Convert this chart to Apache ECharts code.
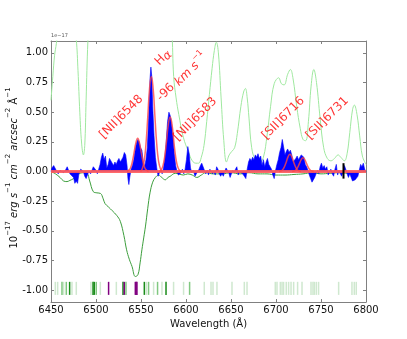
<!DOCTYPE html>
<html><head><meta charset="utf-8">
<script src="https://cdn.jsdelivr.net/npm/echarts@6/dist/echarts.min.js"></script>
<style>html,body{margin:0;padding:0;background:#fff}#c{width:407px;height:339px}</style>
</head><body><div id="c"></div>
<script>
// ---------- data ----------
const xTickValues = [6450, 6500, 6550, 6600, 6650, 6700, 6750, 6800];
const yTickValues = [-1.0, -0.75, -0.5, -0.25, 0.0, 0.25, 0.5, 0.75, 1.0];

// residual spectrum (blue fill)
const residual = [
[6450,0.00],[6451,0.03],[6453,0.05],[6455,0.04],[6456.5,0.00],[6458,-0.02],[6460,0.01],[6462,0.02],[6464,-0.01],[6466,0.01],
[6468,0.04],[6469.5,0.01],[6471,-0.02],[6473,-0.01],[6475,-0.05],[6476.5,-0.10],[6478,-0.08],[6479.5,-0.10],[6481,-0.02],[6483,0.02],
[6484.5,0.03],[6486,0.00],[6487.5,-0.04],[6489,-0.06],[6490.5,-0.03],[6492,0.00],[6494,-0.02],[6495.5,0.01],[6497,0.04],[6498.5,0.05],
[6500,0.01],[6501.5,-0.02],[6503,0.02],[6504.5,0.06],[6506,0.12],[6507.5,0.155],[6509,0.10],[6510.5,0.13],[6512,0.03],[6513.5,0.06],
[6515,0.11],[6516.5,0.12],[6518,0.07],[6519.5,0.05],[6521,0.08],[6522.5,0.06],[6524,0.09],[6525.5,0.11],[6527,0.08],[6528.5,0.10],
[6530,0.12],[6531.5,0.16],[6533,0.14],[6534.5,0.05],[6535.5,-0.06],[6536.5,-0.11],[6537.5,-0.05],[6539,0.02],[6540.5,0.05],[6542,0.10],
[6543.5,0.18],[6545,0.24],[6546.5,0.27],[6548,0.25],[6549.5,0.20],[6551,0.18],[6552.5,0.08],[6554,0.04],[6555.5,0.10],[6557,0.20],
[6558.5,0.45],[6560,0.78],[6561,0.88],[6562,0.80],[6563,0.55],[6564.5,0.30],[6566,0.12],[6567.5,0.03],[6569,-0.04],[6570.5,-0.01],
[6572,0.01],[6573.5,-0.02],[6575,0.03],[6576.5,0.12],[6578,0.25],[6579.5,0.42],[6581,0.50],[6582.5,0.47],[6584,0.40],[6585.5,0.30],
[6587,0.15],[6588.5,0.05],[6590,0.00],[6591.5,-0.03],[6593,-0.04],[6594.5,-0.01],[6596,0.02],[6597.5,-0.02],[6599,0.02],[6600.5,0.10],
[6602,0.21],[6603.5,0.15],[6605,0.03],[6606.5,-0.01],[6608,0.01],[6610,-0.04],[6611.5,-0.03],[6613,0.00],[6614.5,0.02],[6616,0.05],
[6617.5,0.07],[6619,0.04],[6620.5,0.03],[6622,-0.02],[6623.5,0.01],[6625,-0.03],[6626.5,0.02],[6628,0.03],[6629.5,-0.02],[6631,0.00],
[6632.5,-0.03],[6634,0.04],[6635.5,0.02],[6637,-0.02],[6638.5,-0.04],[6640,-0.02],[6641.5,-0.04],[6643,0.00],[6644.5,0.03],[6646,0.02],
[6647.5,-0.01],[6649,-0.05],[6650.5,-0.02],[6652,0.01],[6653.5,-0.01],[6655,0.02],[6656.5,0.04],[6658,-0.03],[6659.5,0.00],[6661,0.01],
[6663,-0.02],[6665,-0.03],[6666.5,-0.06],[6668,0.02],[6669.5,0.08],[6671,0.11],[6672.5,0.09],[6674,0.12],[6675.5,0.10],[6677,0.14],
[6678.5,0.12],[6680,0.15],[6681.5,0.11],[6683,0.13],[6684.5,0.05],[6686,0.10],[6687.5,0.04],[6689,0.08],[6690.5,0.11],[6692,0.06],
[6693.5,0.05],[6695,0.02],[6696.5,-0.03],[6698,-0.06],[6699.5,0.01],[6701,0.06],[6702.5,0.10],[6704,0.16],[6705.5,0.20],[6707,0.27],
[6708.5,0.26],[6710,0.14],[6711.5,0.17],[6713,0.19],[6714.5,0.16],[6716,0.18],[6717.5,0.14],[6719,0.08],[6720.5,0.07],[6722,0.11],
[6723.5,0.13],[6725,0.10],[6726.5,0.12],[6728,0.14],[6729.5,0.15],[6731,0.12],[6732.5,0.06],[6734,0.04],[6735.5,0.01],[6737,-0.03],
[6738.5,-0.06],[6740,-0.09],[6741.5,-0.08],[6743,-0.05],[6744.5,-0.02],[6746,0.01],[6747.5,-0.02],[6749,0.04],[6750.5,0.07],[6752,0.03],
[6753.5,0.05],[6755,0.02],[6756.5,0.04],[6758,-0.03],[6759.5,0.00],[6761,0.02],[6762.5,-0.02],[6764,-0.04],[6765.5,0.02],[6767,0.06],
[6768.5,-0.03],[6770,0.01],[6771.5,-0.02],[6773,-0.04],[6774.5,0.00],[6776,0.05],[6777.5,0.02],[6779,-0.02],[6780.5,-0.05],[6782,-0.02],
[6783.5,-0.05],[6785,-0.08],[6786.5,-0.09],[6788,-0.07],[6789.5,-0.08],[6791,-0.04],[6792.5,0.01],[6794,0.06],[6795.5,0.04],[6797,0.07],
[6798.5,0.02],[6800,0.00]
];

// light green spectrum (goes off the top of the axes)
const lightSpectrum = [
[6450,0.60],[6452,0.80],[6454,0.98],[6456,1.08],[6458,1.2],[6462,1.5],[6468,1.6],[6474,1.35],[6478,1.12],[6480,0.85],
[6482,0.5],[6484,0.24],[6486,0.14],[6487.5,0.22],[6489,0.6],[6491,1.1],[6494,1.5],[6540,1.8],[6578,1.6],[6584,1.2],
[6586.3,0.80],[6589,0.62],[6592,0.48],[6597,0.29],[6603,0.16],[6607,0.09],[6611,0.07],[6614,0.07],[6617,0.12],[6620,0.22],
[6623,0.42],[6626,0.65],[6629,0.87],[6631.5,1.02],[6633.7,1.09],[6636,1.0],[6639,0.62],[6642,0.26],[6645,0.08],[6648,0.14],
[6651,0.17],[6654,0.2],[6657,0.32],[6661,0.55],[6664,0.67],[6666,0.70],[6668,0.62],[6670,0.45],[6673,0.2],[6677,0.1],
[6682,0.08],[6686,0.12],[6690,0.3],[6694,0.55],[6698,0.74],[6703,0.79],[6706,0.74],[6709,0.73],[6713,0.82],[6716,0.86],
[6719,0.78],[6723,0.55],[6727,0.36],[6730,0.27],[6733,0.26],[6736,0.42],[6739,0.72],[6742,0.86],[6745,0.75],[6749,0.45],
[6753,0.2],[6757,0.11],[6761,0.09],[6765,0.11],[6769,0.14],[6772,0.12],[6776,0.09],[6779,0.15],[6782,0.33],[6785,0.52],
[6787,0.56],[6790,0.48],[6793,0.3],[6796,0.13],[6800,0.06]
];

// dark green absorption model
const absorptionModel = [
[6450,0.0],[6455,-0.02],[6460,-0.05],[6464,-0.08],[6467.8,-0.085],[6471,-0.075],[6475,-0.06],[6479,-0.03],[6482.6,-0.015],[6486,-0.01],
[6490,-0.015],[6493,-0.08],[6497,-0.17],[6501,-0.18],[6505,-0.185],[6508,-0.23],[6510,-0.27],[6514,-0.30],[6518,-0.33],[6523,-0.37],
[6527,-0.42],[6531,-0.54],[6534,-0.66],[6537,-0.74],[6540,-0.80],[6543.7,-0.885],[6546.6,-0.87],[6549,-0.77],[6551,-0.66],[6553,-0.56],
[6555,-0.46],[6557.5,-0.31],[6560,-0.18],[6563,-0.09],[6566,-0.05],[6569.6,-0.03],[6573,-0.05],[6577,-0.07],[6580,-0.05],[6582.5,-0.04],
[6588,-0.015],[6592,-0.02],[6597,-0.03],[6602,-0.02],[6607,-0.03],[6612,-0.05],[6617,-0.03],[6622,-0.01],[6630,-0.02],[6640,-0.02],
[6650,-0.01],[6660,-0.02],[6670,-0.01],[6680,-0.02],[6690,-0.02],[6700,-0.03],[6710,-0.03],[6720,-0.025],[6730,-0.02],[6740,-0.01],
[6750,-0.02],[6760,-0.015],[6770,-0.01],[6780,-0.015],[6790,-0.01],[6800,0.0]
];

// fitted emission-line components (red)
const fitNII6548 = [[6534.3,0.0],[6536.3,0.01],[6538.3,0.03],[6540.3,0.08],[6542.3,0.16],[6544.3,0.24],[6546.3,0.28],[6548.3,0.24],[6550.3,0.16],[6552.3,0.08],[6554.3,0.03],[6556.3,0.01],[6558.3,0.0]];
const fitHalpha  = [[6549.5,0.0],[6551.5,0.025],[6553.5,0.087],[6555.5,0.23],[6557.5,0.46],[6559.5,0.70],[6561.5,0.80],[6563.5,0.70],[6565.5,0.46],[6567.5,0.23],[6569.5,0.087],[6571.5,0.025],[6573.5,0.0]];
const fitNII6583 = [[6570.4,0.0],[6572.4,0.014],[6574.4,0.05],[6576.4,0.13],[6578.4,0.26],[6580.4,0.40],[6582.4,0.46],[6584.4,0.40],[6586.4,0.26],[6588.4,0.13],[6590.4,0.05],[6592.4,0.014],[6594.4,0.0]];
const fitSII6716 = [[6703.5,0.0],[6705.5,0.005],[6707.5,0.016],[6709.5,0.042],[6711.5,0.083],[6713.5,0.126],[6715.5,0.145],[6717.5,0.126],[6719.5,0.083],[6721.5,0.042],[6723.5,0.016],[6725.5,0.005],[6727.5,0.0]];
const fitSII6731 = [[6718,0.0],[6720,0.004],[6722,0.013],[6724,0.033],[6726,0.066],[6728,0.10],[6730,0.115],[6732,0.10],[6734,0.066],[6736,0.033],[6738,0.013],[6740,0.004],[6742,0.0]];
const fitBaseline = [[6450,0.0],[6800,0.0]];

// line-list markers near y = -1
const markerLow = -1.04, markerHigh = -0.93;
const markersLight  = [6454.8,6457.4,6464.0,6473.3,6478.1,6494.4,6504.8,6522.6,6555.9,6564.0,6573.3,6586.2,6597.3,6620.3,6627.8,6630.0,6634.4,6651.1,6664.8,6667.8,6699.2,6701.1,6704.8,6706.7,6708.4,6711.4,6714.0,6716.7,6719.6,6724.0,6728.9,6738.9,6741.1,6742.6,6744.8,6747.3,6769.6,6784.4,6787.0,6789.2];
const markersMedium = [6462.2,6467.0,6500.3,6533.3,6558.4,6568.4,6604.0];
const markersDark   = [6470.7,6496.7,6498.1,6530.0,6553.7,6577.8];
const markersPurple = [6514.0,6531.4,6543.7,6544.6,6545.5];

// short black marker
const blackMarker = [[6775,-0.06],[6775,0.07]];

// line labels
const lineLabels = [
  {name:'[NII]6548', value:[6528.1,0.46]},
  {name:'Hα', value:[6574.5,0.96]},
  {name:'-96 km s-1', value:[6595.0,0.80]},
  {name:'[NII]6583', value:[6610.3,0.44]},
  {name:'[SII]6716', value:[6708.1,0.45]},
  {name:'[SII]6731', value:[6757.0,0.45]}
];

// ---------- chart ----------
const chart = echarts.init(document.getElementById('c'), null, {renderer:'canvas'});
const FONT = 'DejaVu Sans';
const axisGray = '#808080';

function markerSeries(list, color, width) {
  return {
    type:'custom', xAxisIndex:0, yAxisIndex:0, z:5,
    data: list.map(v => [v, markerLow]),
    renderItem: function(params, api) {
      const a = api.coord([api.value(0), markerLow]);
      const b = api.coord([api.value(0), markerHigh]);
      return {type:'line', shape:{x1:a[0], y1:a[1], x2:b[0], y2:b[1]}, style:{stroke:color, lineWidth:width}};
    }
  };
}
function fitSeries(d) {
  return {type:'line', data:d, smooth:true, symbol:'none', z:4,
    lineStyle:{color:'rgba(255,70,70,0.8)', width:1.5}};
}

const option = {
  animation:false,
  backgroundColor:'#fff',
  grid:{left:51, right:41, top:41, bottom:37},
  xAxis:[{
    type:'value', min:6450, max:6800, interval:50, position:'bottom',
    axisLine:{show:true, onZero:false, lineStyle:{color:axisGray, width:1}},
    axisTick:{show:true, inside:true, length:3, lineStyle:{color:axisGray}},
    axisLabel:{show:true, color:'#111', fontFamily:FONT, fontSize:10, margin:3, formatter:v => String(v)},
    splitLine:{show:false},
    name:'Wavelength (Å)', nameLocation:'middle', nameGap:14,
    nameTextStyle:{color:'#111', fontFamily:FONT, fontSize:10}
  },{
    type:'value', min:6450, max:6800, interval:50, position:'top',
    axisLine:{show:true, onZero:false, lineStyle:{color:axisGray, width:1}},
    axisTick:{show:true, inside:true, length:3, lineStyle:{color:axisGray}},
    axisLabel:{show:false}, splitLine:{show:false}
  }],
  yAxis:[{
    type:'value', min:-1.1, max:1.1, position:'left',
    axisLine:{show:true, onZero:false, lineStyle:{color:axisGray, width:1}},
    axisTick:{show:true, inside:true, length:3, lineStyle:{color:axisGray}, customValues:yTickValues},
    axisLabel:{show:true, color:'#111', fontFamily:FONT, fontSize:10, margin:3,
      customValues:yTickValues, formatter:v => v.toFixed(2)},
    splitLine:{show:false}
  },{
    type:'value', min:-1.1, max:1.1, position:'right',
    axisLine:{show:true, onZero:false, lineStyle:{color:axisGray, width:1}},
    axisTick:{show:true, inside:true, length:3, lineStyle:{color:axisGray}, customValues:yTickValues},
    axisLabel:{show:false}, splitLine:{show:false}
  }],
  graphic:[
    {type:'text', left:51, top:33, style:{text:'1e−17', fill:'#555', font:'5px DejaVu Sans'}},
    {type:'text', x:12, y:168, rotation:Math.PI/2,
      style:{
        text:'{n|10}{s|−17}{i| erg s}{s|−1}{i| cm}{s|−2}{i| arcsec}{s|−2}{n| Å}{s|−1}',
        align:'center', verticalAlign:'middle', fill:'#111',
        rich:{
          n:{fontFamily:FONT, fontSize:10, lineHeight:14, verticalAlign:'bottom', fill:'#111'},
          i:{fontFamily:FONT, fontSize:10, fontStyle:'italic', lineHeight:14, verticalAlign:'bottom', fill:'#111'},
          s:{fontFamily:FONT, fontSize:7, lineHeight:14, verticalAlign:'top', fill:'#111'}
        }
      }}
  ],
  series:[
    {type:'line', data:lightSpectrum, smooth:0.4, symbol:'none', z:1,
      lineStyle:{color:'#9fe89f', width:1}},
    {type:'line', data:absorptionModel, smooth:0.4, symbol:'none', z:2,
      lineStyle:{color:'#3c9e3c', width:1}},
    {type:'line', data:residual, symbol:'none', z:3,
      lineStyle:{color:'#0000ff', width:0.6}, areaStyle:{color:'#0000ff', opacity:1}},
    {type:'line', data:fitBaseline, symbol:'none', z:4,
      lineStyle:{color:'rgba(255,90,90,0.9)', width:3}},
    fitSeries(fitNII6548), fitSeries(fitHalpha), fitSeries(fitNII6583),
    fitSeries(fitSII6716), fitSeries(fitSII6731),
    markerSeries(markersLight, '#cfe8cf', 1.5),
    markerSeries(markersMedium, '#80c880', 1.5),
    markerSeries(markersDark, '#1a8c1a', 1.5),
    markerSeries(markersPurple, '#800080', 1.5),
    {type:'line', data:blackMarker, symbol:'none', z:6, lineStyle:{color:'#000', width:2}},
    {type:'scatter', data:lineLabels, symbolSize:0, z:7, silent:true,
      label:{show:true, position:'inside', rotate:45, color:'#ff0000', fontFamily:FONT, fontSize:12,
        formatter:function(p){
          if (p.name === 'Hα') return 'H{it|α}';
          if (p.name === '-96 km s-1') return '-96 {it|km s}{sup|−1}';
          return p.name;
        },
        rich:{
          it:{fontStyle:'italic', color:'#ff0000', fontFamily:FONT, fontSize:12, lineHeight:16, verticalAlign:'bottom'},
          sup:{color:'#ff0000', fontFamily:FONT, fontSize:8, lineHeight:16, verticalAlign:'top'}
        }
      }}
  ]
};
chart.setOption(option);
</script>
</body></html>
